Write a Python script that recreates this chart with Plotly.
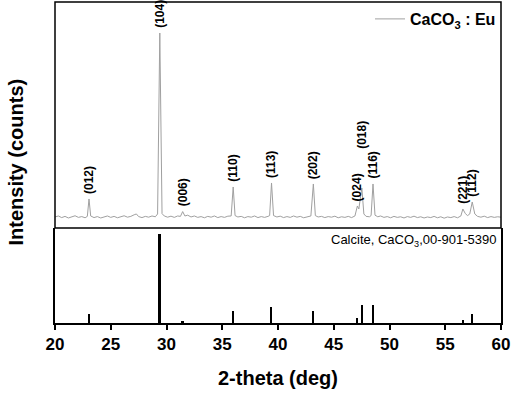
import plotly.graph_objects as go
from plotly.subplots import make_subplots

scan_2theta = [
    20.0, 20.3, 20.6, 20.9, 21.2, 21.5, 21.8, 22.1, 22.4, 22.7, 22.9, 23.05, 23.2, 23.5,
    23.8, 24.1, 24.4, 24.7, 25.0, 25.3, 25.6, 25.9, 26.2, 26.5, 26.8, 27.1, 27.3, 27.5,
    27.8, 28.1, 28.4, 28.7, 29.0, 29.2, 29.4, 29.6, 29.8, 30.1, 30.4, 30.7, 31.0, 31.25,
    31.45, 31.65, 31.9, 32.2, 32.5, 32.8, 33.1, 33.4, 33.7, 34.0, 34.3, 34.6, 34.9, 35.2,
    35.5, 35.8, 35.98, 36.15, 36.4, 36.7, 37.0, 37.3, 37.6, 37.9, 38.2, 38.5, 38.8, 39.1,
    39.25, 39.42, 39.6, 39.9, 40.2, 40.5, 40.8, 41.1, 41.4, 41.7, 42.0, 42.3, 42.6, 42.95,
    43.17, 43.35, 43.6, 43.9, 44.2, 44.5, 44.8, 45.1, 45.4, 45.7, 46.0, 46.3, 46.6, 46.9,
    47.12, 47.25, 47.52, 47.7, 47.9, 48.2, 48.35, 48.52, 48.7, 48.95, 49.2, 49.5, 49.8, 50.1,
    50.4, 50.7, 51.0, 51.3, 51.6, 51.9, 52.2, 52.5, 52.8, 53.1, 53.4, 53.7, 54.0, 54.3,
    54.6, 54.9, 55.2, 55.5, 55.8, 56.1, 56.4, 56.58, 56.8, 57.0, 57.2, 57.42, 57.65, 57.9,
    58.2, 58.5, 58.8, 59.1, 59.4, 59.7, 60.0,
]
scan_counts = [
    55, 60, 52, 58, 50, 57, 61, 53, 57, 51, 58, 145, 60, 52,
    57, 50, 56, 60, 53, 58, 51, 55, 61, 54, 58, 66, 70, 57,
    52, 58, 54, 60, 56, 70, 975, 72, 60, 54, 59, 53, 60, 58,
    82, 60, 64, 55, 60, 53, 57, 51, 58, 54, 60, 52, 57, 53,
    59, 60, 205, 62, 55, 58, 51, 57, 54, 60, 52, 57, 53, 58,
    62, 225, 62, 55, 59, 52, 57, 53, 60, 54, 58, 51, 56, 60,
    220, 62, 55, 58, 52, 57, 54, 59, 51, 56, 53, 58, 52, 60,
    110, 95, 200, 70, 58, 56, 62, 220, 64, 56, 60, 53, 57, 51,
    58, 53, 56, 50, 57, 53, 59, 52, 56, 50, 55, 52, 58, 51,
    56, 49, 55, 52, 57, 51, 60, 95, 72, 62, 70, 130, 70, 58,
    54, 59, 52, 57, 53, 56, 54,
]

# Índices de Miller dos picos
pico_hkl = ['(012)', '(104)', '(006)', '(110)', '(113)', '(202)',
            '(024)', '(018)', '(116)', '(221)', '(112)']
pico_2theta = [23.05, 29.4, 31.45, 35.98, 39.42, 43.17, 47.12, 47.52, 48.52, 56.58, 57.42]
pico_counts = [145, 975, 82, 205, 225, 220, 110, 200, 220, 95, 130]

# Padrão de referência: Calcite 00-901-5390 (intensidade relativa)
ref_2theta = [23.05, 29.4, 31.45, 35.98, 39.42, 43.17, 47.12, 47.52, 48.52, 56.58, 57.42]
ref_int = [10, 100, 2, 14, 18, 14, 6, 20, 20, 3.5, 10]

x_ticks = [20, 25, 30, 35, 40, 45, 50, 55, 60]

FONTE = 'Liberation Sans, Arial'

fig = make_subplots(rows=2, cols=1, shared_xaxes=True, vertical_spacing=0,
                    row_heights=[0.704, 0.296])

fig.add_trace(go.Scatter(
    x=scan_2theta, y=scan_counts, mode='lines',
    line=dict(color='#a0a0a0', width=1),
    name='CaCO<sub>3</sub> : Eu', showlegend=True
), row=1, col=1)

fig.add_trace(go.Bar(
    x=ref_2theta, y=ref_int, width=0.15,
    marker=dict(color='black', line=dict(width=0)),
    showlegend=False
), row=2, col=1)

# Rótulos dos picos (rotacionados)
for hkl, xp, yp in zip(pico_hkl, pico_2theta, pico_counts):
    shift = 37 if hkl == '(018)' else 3
    fig.add_annotation(
        x=xp, y=yp, xref='x', yref='y', text=hkl, textangle=-90,
        showarrow=False, xanchor='center', yanchor='bottom', yshift=shift,
        font=dict(family=FONTE, size=12, color='black', weight='bold')
    )

fig.add_annotation(
    x=1, y=1, xref='paper', yref='y2 domain', xanchor='right', yanchor='top',
    xshift=-3, yshift=-2, showarrow=False,
    text='Calcite, CaCO<sub>3</sub>,00-901-5390',
    font=dict(family=FONTE, size=13, color='black')
)

fig.add_annotation(
    x=0, y=0.5, xref='paper', yref='paper', xanchor='center', yanchor='middle',
    xshift=-40, showarrow=False, textangle=-90, text='Intensity (counts)',
    font=dict(family=FONTE, size=20, color='black', weight='bold')
)

# moldura do painel superior
fig.add_shape(type='rect', xref='x domain', yref='y domain',
              x0=0, x1=1, y0=0, y1=1, line=dict(color='black', width=1.5),
              layer='above')

eixo = dict(linecolor='black', linewidth=1.5, showgrid=False, zeroline=False)

fig.update_xaxes(range=[20, 60], **eixo)
fig.update_xaxes(showline=False, showticklabels=False, ticks='', row=1, col=1)
fig.update_xaxes(
    showline=True, mirror=False,
    tickvals=x_ticks, ticks='outside', ticklen=5, tickwidth=1.5, tickcolor='black',
    tickfont=dict(family=FONTE, size=17, color='black', weight='bold'),
    title=dict(text='2-theta (deg)', standoff=18,
               font=dict(family=FONTE, size=20, color='black', weight='bold')),
    row=2, col=1
)
fig.update_yaxes(showticklabels=False, ticks='', **eixo)
fig.update_yaxes(range=[0, 1130], showline=False, row=1, col=1)
fig.update_yaxes(range=[0, 107], showline=True, mirror=True, row=2, col=1)

fig.update_layout(
    width=512, height=393,
    margin=dict(l=55, r=11, t=2, b=70),
    paper_bgcolor='white', plot_bgcolor='white',
    bargap=0,
    legend=dict(
        x=1, y=1, xanchor='right', yanchor='top',
        bgcolor='rgba(0,0,0,0)', borderwidth=0,
        font=dict(family=FONTE, size=16, color='black', weight='bold')
    )
)

fig.write_html('out.html', config={'displayModeBar': False},
               post_script="document.body.style.margin='0';")
